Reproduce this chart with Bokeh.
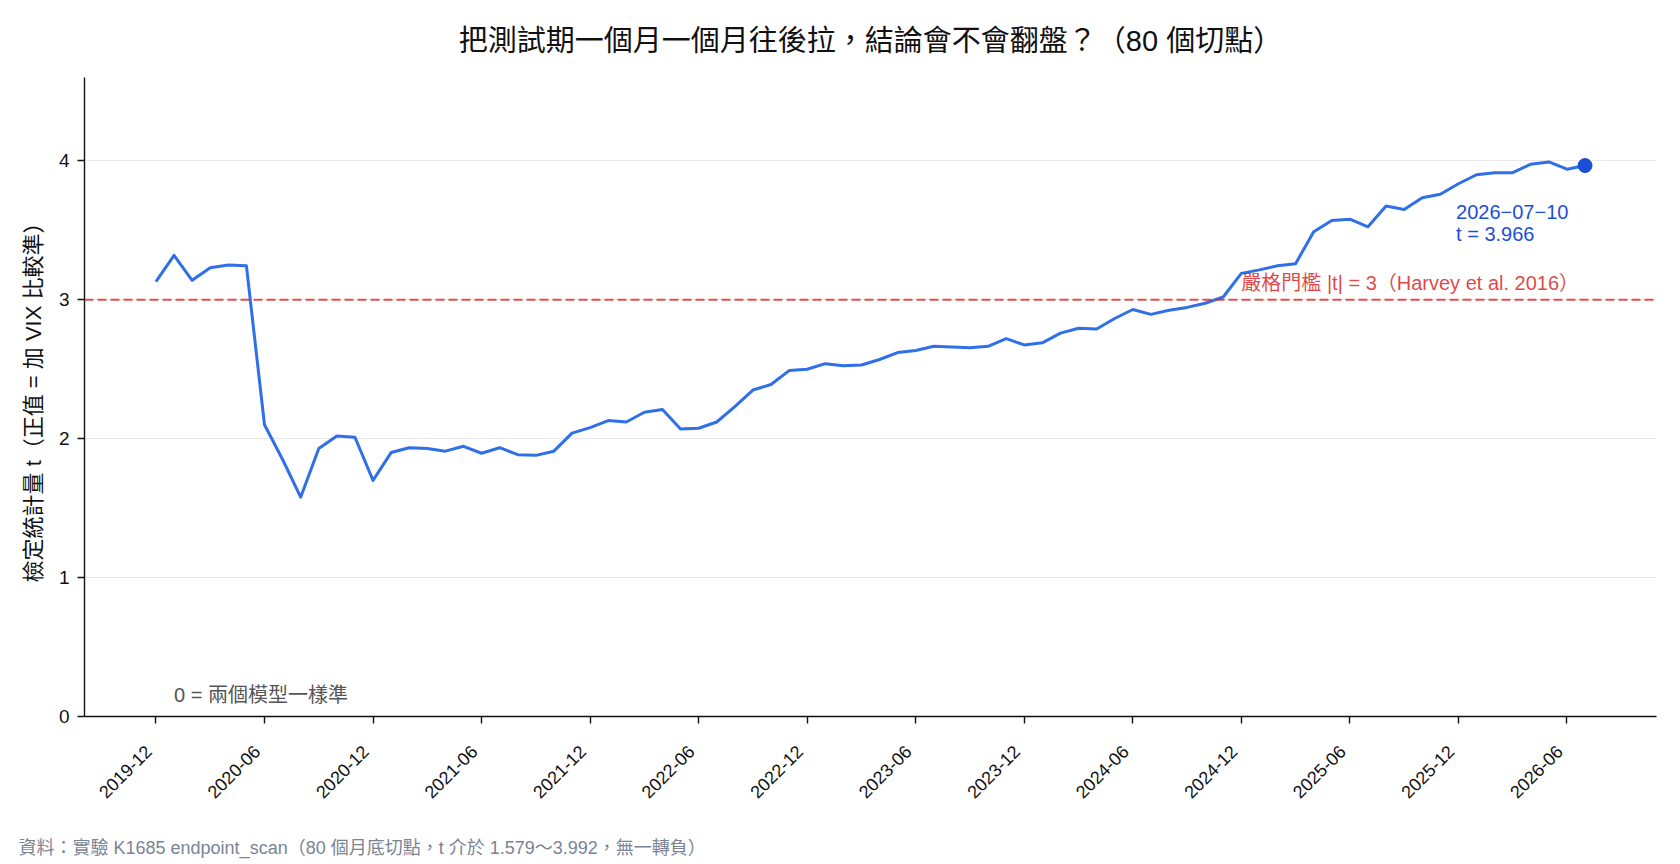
import math
from bokeh.plotting import figure
from bokeh.models import FixedTicker, Label, Span, ColumnDataSource, Range1d, Title
from bokeh.embed import file_html
from bokeh.resources import INLINE

# ---- data ----
tick_labels = ["2019-12", "2020-06", "2020-12", "2021-06", "2021-12", "2022-06",
               "2022-12", "2023-06", "2023-12", "2024-06", "2024-12", "2025-06",
               "2025-12", "2026-06"]
tick_index = [0, 6, 12, 18, 24, 30, 36, 42, 48, 54, 60, 66, 72, 78]

t_values = [3.13, 3.32, 3.14, 3.23, 3.25, 3.245, 2.10, 1.85, 1.579, 1.93,
            2.02, 2.01, 1.70, 1.90, 1.935, 1.93, 1.91, 1.945, 1.895, 1.935,
            1.885, 1.88, 1.91, 2.04, 2.08, 2.13, 2.12, 2.19, 2.21, 2.07,
            2.075, 2.12, 2.23, 2.35, 2.39, 2.49, 2.50, 2.54, 2.525, 2.53,
            2.57, 2.62, 2.635, 2.665, 2.66, 2.655, 2.665, 2.72, 2.675, 2.69,
            2.76, 2.795, 2.79, 2.865, 2.93, 2.895, 2.925, 2.945, 2.975, 3.02,
            3.19, 3.215, 3.245, 3.26, 3.49, 3.57, 3.58, 3.525, 3.675, 3.65,
            3.735, 3.76, 3.835, 3.90, 3.915, 3.915, 3.976, 3.992, 3.94, 3.966]
last_date = "2026−07−10"
threshold = 3.0
y_ticks = [0, 1, 2, 3, 4]

FONT = "Liberation Sans, Noto Sans CJK TC"
BLUE = "#2f6fe9"
DARK_BLUE = "#1d4ed8"
RED = "#dc2626"

n = len(t_values)
xs = list(range(n))
src = ColumnDataSource(dict(x=xs, t=t_values))

span_x = n - 1
p = figure(width=1680, height=864,
           x_range=Range1d(-0.05 * span_x, span_x * 1.05),
           y_range=Range1d(0, 4.6),
           output_backend="svg", toolbar_location=None,
           min_border_left=84, min_border_right=24,
           min_border_top=77, min_border_bottom=148)
p.outline_line_color = None
p.background_fill_color = "white"
p.border_fill_color = "white"

# title
p.title.text = "把測試期一個月一個月往後拉，結論會不會翻盤？（80 個切點）"
p.title.align = "center"
p.title.text_font = FONT
p.title.text_font_size = "29px"
p.title.text_font_style = "normal"
p.title.text_color = "#111111"
p.title.standoff = 41

# footer (leading blank line acts as spacer below the rotated tick labels)
p.add_layout(Title(text="\n資料：實驗 K1685 endpoint_scan（80 個月底切點，t 介於 1.579～3.992，無一轉負）",
                   align="left", offset=-66, standoff=6, text_font=FONT,
                   text_font_size="18px", text_font_style="normal",
                   text_color="#7b8494"), "below")

p.xgrid.grid_line_color = None
p.ygrid.grid_line_color = "#e8e8e8"
p.ygrid.grid_line_width = 1.2
p.ygrid.ticker = FixedTicker(ticks=[1, 2, 3, 4])

p.yaxis.ticker = FixedTicker(ticks=y_ticks)
p.xaxis.ticker = FixedTicker(ticks=tick_index)
# trailing no-break spaces shift the rotated label so its box ends at the tick
p.xaxis.major_label_overrides = {i: lab + "\u00a0\u00a0" for i, lab in zip(tick_index, tick_labels)}
p.xaxis.major_label_orientation = math.pi / 4

for ax in (p.xaxis, p.yaxis):
    ax.axis_line_color = "#111111"
    ax.axis_line_width = 1.4
    ax.major_tick_line_color = "#111111"
    ax.major_tick_line_width = 1.4
    ax.major_tick_in = 0
    ax.major_tick_out = 7
    ax.minor_tick_line_color = None
    ax.major_label_text_font = FONT
    ax.major_label_text_font_size = "19px"
    ax.major_label_text_color = "#111111"
p.yaxis.major_label_standoff = 8
p.xaxis.major_label_standoff = 18
p.xaxis.major_label_text_font_size = "18px"

p.yaxis.axis_label = "檢定統計量 t（正值 = 加 VIX 比較準）"
p.yaxis.axis_label_text_font = FONT
p.yaxis.axis_label_text_font_size = "22px"
p.yaxis.axis_label_text_font_style = "normal"
p.yaxis.axis_label_text_color = "#111111"
p.yaxis.axis_label_standoff = 10

# threshold line
p.add_layout(Span(location=threshold, dimension="width", line_color=RED,
                  line_alpha=0.8, line_dash="9 4", line_width=2))

# main line
p.line("x", "t", source=src, line_color=BLUE, line_width=3, line_join="round")
p.scatter(x=[xs[-1]], y=[t_values[-1]], size=14, color=DARK_BLUE)

# annotations
p.add_layout(Label(x=xs[-1], y=t_values[-1], x_offset=-129, y_offset=-46,
                   text=last_date, text_font=FONT, text_font_size="20px",
                   text_color=DARK_BLUE, text_baseline="middle", text_align="left"))
p.add_layout(Label(x=xs[-1], y=t_values[-1], x_offset=-129, y_offset=-68,
                   text="t = %.3f" % t_values[-1], text_font=FONT, text_font_size="20px",
                   text_color=DARK_BLUE, text_baseline="middle", text_align="left"))
p.add_layout(Label(x=60, y=threshold, y_offset=17,
                   text="嚴格門檻 |t| = 3（Harvey et al. 2016）", text_font=FONT,
                   text_font_size="20px", text_color=RED, text_alpha=0.85,
                   text_baseline="middle", text_align="left"))
p.add_layout(Label(x=1, y=0, y_offset=22,
                   text="0 = 兩個模型一樣準", text_font=FONT, text_font_size="20px",
                   text_color="#555555", text_baseline="middle", text_align="left"))

open("out.html", "w").write(file_html(p, INLINE))
